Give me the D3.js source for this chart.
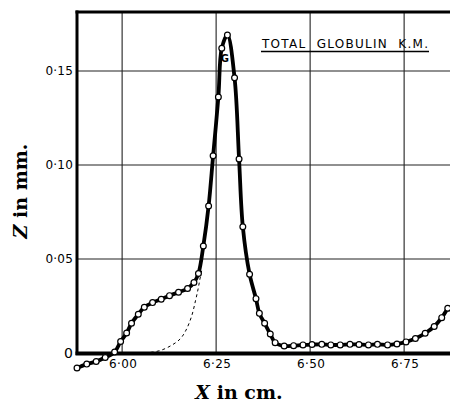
<!DOCTYPE html>
<html><head><meta charset="utf-8">
<script src="https://cdnjs.cloudflare.com/ajax/libs/d3/7.8.5/d3.min.js"></script>
<style>body{margin:0;background:#fff}svg{display:block}</style>
</head><body>
<svg id="c" width="450" height="403"></svg>
<script>
// Data (X in cm, Z in mm)
const xVals = [5.880,5.906,5.931,5.955,5.980,5.996,6.012,6.025,6.043,6.059,6.081,6.104,6.126,6.150,6.174,6.191,6.203,6.216,6.230,6.242,6.256,6.265,6.280,6.299,6.311,6.321,6.339,6.356,6.365,6.379,6.394,6.407,6.431,6.456,6.481,6.505,6.531,6.555,6.580,6.606,6.630,6.655,6.679,6.706,6.731,6.755,6.780,6.806,6.830,6.850,6.866];
const zVals = [-0.0080,-0.0059,-0.0045,-0.0024,0.0005,0.0061,0.0106,0.0158,0.0206,0.0243,0.0268,0.0286,0.0305,0.0323,0.0343,0.0375,0.0423,0.0569,0.0782,0.1049,0.1362,0.1621,0.1691,0.1464,0.1032,0.0672,0.0419,0.0289,0.0211,0.0158,0.0101,0.0055,0.0037,0.0039,0.0043,0.0045,0.0046,0.0043,0.0043,0.0046,0.0045,0.0043,0.0046,0.0043,0.0048,0.0059,0.0077,0.0105,0.0141,0.0188,0.0238];
const dashX = [6.060,6.074,6.101,6.128,6.154,6.170,6.185,6.195,6.202,6.207,6.213];
const dashZ = [0.0000,0.0003,0.0013,0.0037,0.0074,0.0122,0.0197,0.0277,0.0340,0.0394,0.0452];
const xTicks = [6.00,6.25,6.50,6.75];
const xTickLabels = ["6·00","6·25","6·50","6·75"];
const yTicks = [0,0.05,0.10,0.15];
const yTickLabels = ["0","0·05","0·10","0·15"];
const title = "TOTAL  GLOBULIN  K.M.";
const peakLabel = "G";

const svg = d3.select("#c");
const x = d3.scaleLinear().domain([5.88,6.872]).range([77,450]);
const y = d3.scaleLinear().domain([0,0.1814]).range([353,12]);

// grid
svg.append("g").selectAll("line").data(xTicks).join("line")
  .attr("x1",d=>x(d)).attr("x2",d=>x(d)).attr("y1",y(0.1814)).attr("y2",y(0))
  .attr("stroke","#222").attr("stroke-width",1.1);
svg.append("g").selectAll("line").data(yTicks.filter(d=>d>0)).join("line")
  .attr("x1",x(5.88)).attr("x2",450).attr("y1",d=>y(d)).attr("y2",d=>y(d))
  .attr("stroke","#222").attr("stroke-width",1.1);

// frame
svg.append("line").attr("x1",x(5.88)).attr("x2",x(5.88)).attr("y1",10.5).attr("y2",355)
  .attr("stroke","#000").attr("stroke-width",3);
svg.append("line").attr("x1",75.5).attr("x2",450).attr("y1",12).attr("y2",12)
  .attr("stroke","#000").attr("stroke-width",3);
svg.append("line").attr("x1",75.5).attr("x2",450).attr("y1",y(0)+0.5).attr("y2",y(0)+0.5)
  .attr("stroke","#000").attr("stroke-width",4);

// tick labels
svg.append("g").selectAll("text").data(yTicks).join("text")
  .attr("x",73).attr("y",d=>y(d)).attr("dy","0.36em").attr("text-anchor","end")
  .attr("font-family","DejaVu Sans").attr("font-size",(d,i)=>i===0?14:12).attr("letter-spacing",0.2)
  .text((d,i)=>yTickLabels[i]);
svg.append("g").selectAll("text").data(xTicks).join("text")
  .attr("x",d=>x(d)+1).attr("y",368).attr("text-anchor","middle")
  .attr("font-family","DejaVu Sans").attr("font-size",12).attr("letter-spacing",0.4)
  .text((d,i)=>xTickLabels[i]);

// axis titles
const xt = svg.append("text").attr("x",239).attr("y",399).attr("text-anchor","middle")
  .attr("font-family","DejaVu Serif").attr("font-size",19).attr("font-weight","bold");
xt.append("tspan").attr("font-style","italic").text("X");
xt.append("tspan").text(" in cm.");
const yt = svg.append("text").attr("transform","translate(27,191) rotate(-90)").attr("text-anchor","middle")
  .attr("font-family","DejaVu Serif").attr("font-size",19).attr("font-weight","bold");
yt.append("tspan").attr("font-style","italic").text("Z");
yt.append("tspan").text(" in mm.");

// title
svg.append("text").attr("x",262).attr("y",47.5).attr("font-family","DejaVu Sans").attr("font-size",12)
  .attr("textLength",166).attr("lengthAdjust","spacing").style("white-space","pre").text(title);
svg.append("line").attr("x1",261).attr("x2",429).attr("y1",51.5).attr("y2",51.5)
  .attr("stroke","#000").attr("stroke-width",1.3);

// dashed curve
const dashPts = dashX.map((d,i)=>[d,dashZ[i]]);
svg.append("path").datum(dashPts)
  .attr("d",d3.line().x(d=>x(d[0])).y(d=>y(d[1])).curve(d3.curveCatmullRom))
  .attr("fill","none").attr("stroke","#000").attr("stroke-width",1).attr("stroke-dasharray","3,3");

// main curve
const pts = xVals.map((d,i)=>[d,zVals[i]]);
svg.append("path").datum(pts)
  .attr("d",d3.line().x(d=>x(d[0])).y(d=>y(d[1])).curve(d3.curveCatmullRom.alpha(0.5)))
  .attr("fill","none").attr("stroke","#000").attr("stroke-width",3.8).attr("stroke-linejoin","round");

svg.append("g").selectAll("circle").data(pts).join("circle")
  .attr("cx",d=>x(d[0])).attr("cy",d=>y(d[1])).attr("r",2.9)
  .attr("fill","#fff").attr("stroke","#000").attr("stroke-width",1.2);

// peak label
svg.append("text").attr("x",x(6.273)).attr("y",y(0.155)).attr("text-anchor","middle")
  .attr("font-family","DejaVu Sans").attr("font-size",10).attr("font-weight","bold").text(peakLabel);
</script>
</body></html>
